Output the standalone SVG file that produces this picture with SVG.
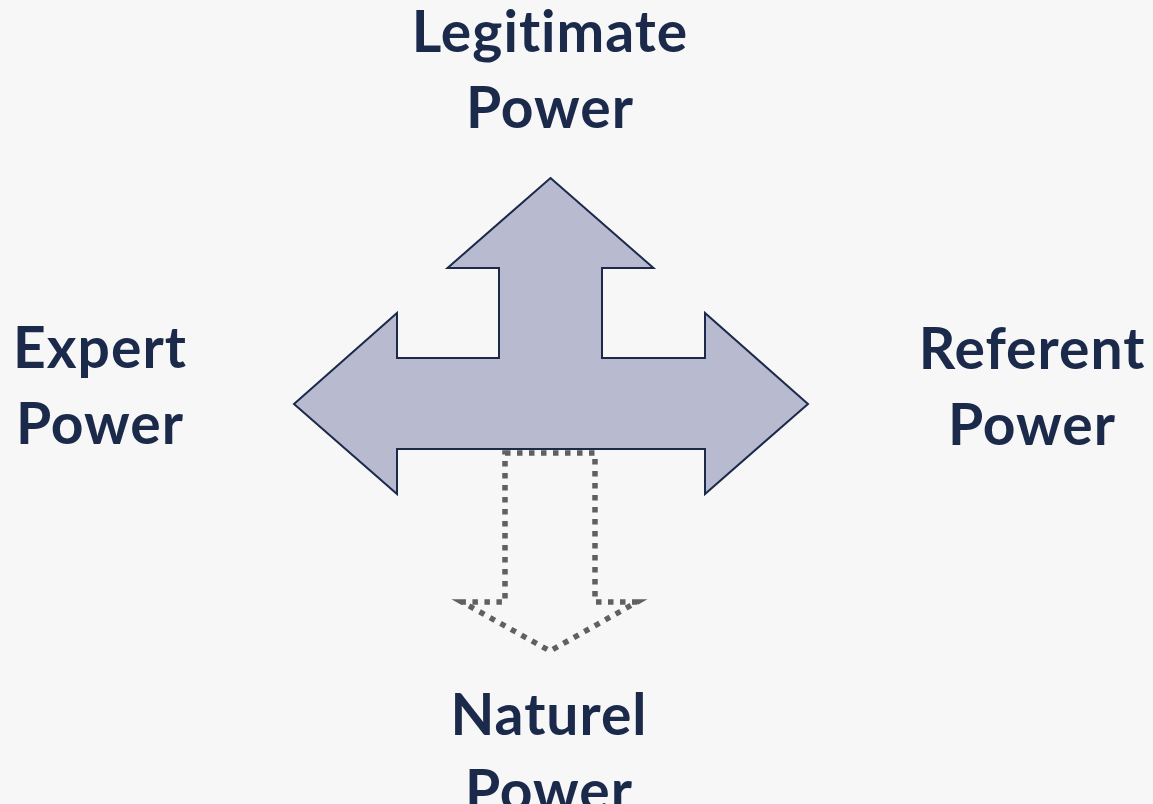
<svg xmlns="http://www.w3.org/2000/svg" width="1153" height="804" viewBox="0 0 1153 804">
<style>
.lbl{font-family:Lato,"Open Sans","Liberation Sans",sans-serif;font-weight:700;font-size:57px;letter-spacing:1px;font-variant-ligatures:none;fill:#1B2A4A;text-anchor:middle}
.main{fill:#B8BBD0;stroke:#1B2A4A;stroke-width:2;stroke-linejoin:miter}
.dot{fill:none;stroke:#606060;stroke-width:5.5;stroke-dasharray:5.5 6.5}
</style>
<rect width="1153" height="804" fill="#F7F7F7"/>
<g id="connectors">
<path class="dot" d="M505,453 L595,453 L595,602 L637,602 L550,651 L462,602 L505,602 Z"/>
<path class="main" d="M550.5,178 L653.5,268 L602,268 L602,358 L705,358 L705,313 L808,404 L705,494 L705,449 L397,449 L397,494 L294,404 L397,313 L397,358 L499,358 L499,268 L447.5,268 Z"/>
</g>
<g id="legitimate"><text class="lbl" x="550" y="52">Legitimate</text><text class="lbl" x="550" y="128">Power</text></g>
<g id="expert"><text class="lbl" x="100" y="368">Expert</text><text class="lbl" x="100" y="444">Power</text></g>
<g id="referent"><text class="lbl" x="1032" y="369">Referent</text><text class="lbl" x="1032" y="445">Power</text></g>
<g id="naturel"><text class="lbl" x="549" y="735">Naturel</text><text class="lbl" x="549" y="811">Power</text></g>
</svg>
